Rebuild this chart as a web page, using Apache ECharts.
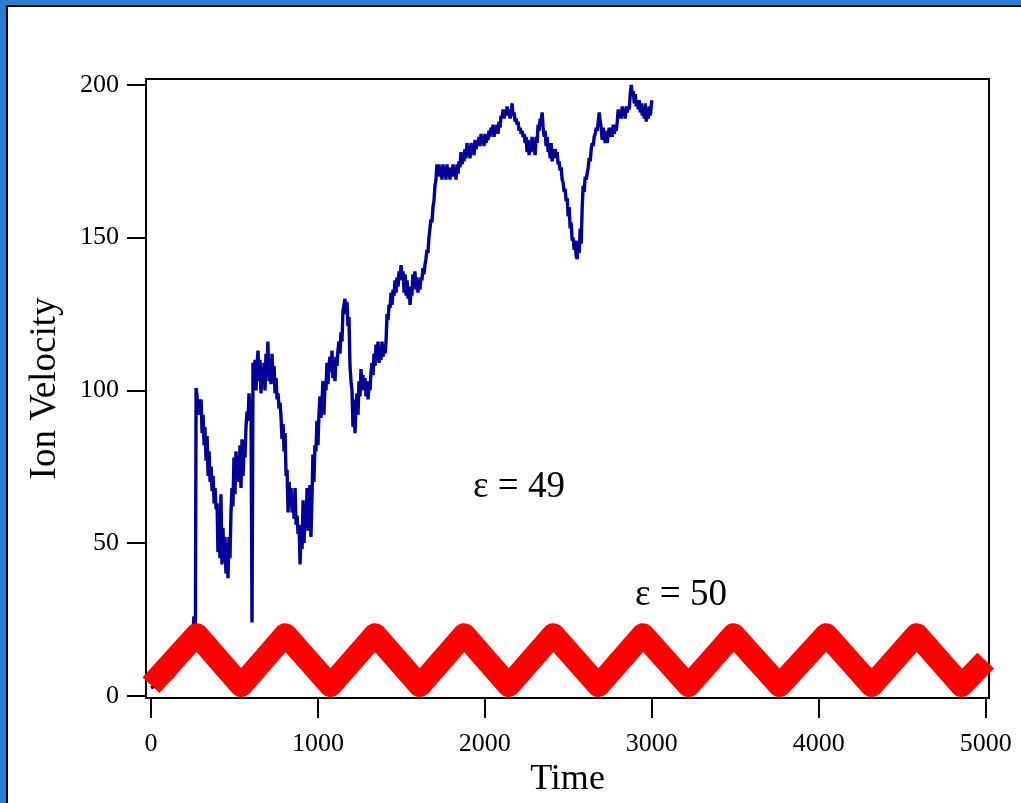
<!DOCTYPE html>
<html><head><meta charset="utf-8">
<script src="https://cdn.jsdelivr.net/npm/echarts@6/dist/echarts.min.js"></script>
<style>html,body{margin:0;padding:0;background:#fff;overflow:hidden}#c{width:1021px;height:803px}</style>
</head><body><div id="c"></div>
<script>
const xTicks = [0, 1000, 2000, 3000, 4000, 5000];
const yTicks = [0, 50, 100, 150, 200];
const xTitle = 'Time';
const yTitle = 'Ion Velocity';
const label49 = 'ε = 49';
const label50 = 'ε = 50';

// epsilon = 49 (blue), [time, velocity]
const blue49 = [
[0,2.5],[30,3.5],[60,4.5],[90,5],[126,6],[160,8.5],[192,10.7],[220,12.5],[245,14.3],[252,21],[257,26],[262,24],[266,22],[270,100.8],
[276,98],[282,92],[288,97],[294,93],[300,97],[306,86],[312,92],[318,82],[323,88],[330,77],[336,85],[342,72],[348,80],[354,70],[360,75],
[366,67],[372,72],[378,63],[384,68],[390,61],[396,63],[401,47],[407,60],[413,45],[419,66],[425,43],[431,55],[437,44],[443,52],[449,40],
[455,50],[461,38.5],[467,52],[473,45],[479,60],[485,68],[491,62],[497,78],[503,66],[509,80],[515,72],[521,78],[527,70],[533,82],[539,68],
[545,84],[551,72],[557,80],[563,78],[569,88],[575,93],[581,90],[587,99],[593,93],[599,97],[605,24],[611,109],[617,104],[623,110],[629,100],
[635,108],[641,113],[647,103],[653,110],[659,99],[665,107],[671,102],[677,109],[683,100],[689,112],[695,106],[700,116],[707,103],[713,110],
[719,102],[725,112],[731,103],[737,108],[743,99],[749,104],[755,97],[761,99],[767,94],[773,96],[779,91],[785,84],[791,89],[797,80],[803,86],
[809,72],[815,74],[821,60],[827,70],[833,64],[839,68],[845,60],[851,66],[857,58],[863,68],[869,56],[875,59],[881,53],[887,56],[893,43],
[899,55],[905,48],[911,64],[917,50],[923,62],[929,56],[935,68],[941,54],[947,60],[952,69],[958,52],[964,64],[970,79],[976,70],[982,82],
[988,80],[994,90],[1000,82],[1006,92],[1012,98],[1018,91],[1024,96],[1030,103],[1036,92],[1042,102],[1048,100],[1054,109],[1060,102],
[1066,108],[1072,111],[1078,106],[1084,113],
[1090,104],[1096,110],[1102,103],[1108,111],[1114,108],[1120,113],[1126,116],[1132,112],[1138,119],[1144,116],[1150,126],[1156,128],
[1162,130],[1168,125],[1174,129],[1180,121],[1186,124],[1192,108],[1198,103],[1204,100],[1210,88],[1216,97],[1222,86],[1228,95],[1234,99],
[1240,92],[1246,103],[1252,98],[1258,107],[1264,100],[1270,105],[1276,101],[1282,104],[1288,98],[1294,103],[1300,97],[1306,102],[1312,100],
[1318,106],[1324,109],[1330,105],[1336,112],[1342,108],[1348,115],[1354,110],[1360,116],[1366,109],[1372,114],[1378,110],[1384,116],
[1390,111],[1396,115],[1402,112],[1408,116],[1414,125],[1420,123],[1426,128],[1432,127],[1438,132],[1444,128],[1450,133],[1456,131],
[1462,136],[1468,132],[1474,137],[1480,134],[1486,139],[1492,137],[1498,141],[1504,136],[1510,139],[1516,132],[1522,138],[1528,131],
[1534,136],[1540,130],[1546,134],[1552,128],[1558,133],[1563,131],[1569,138],[1575,134],[1581,139],[1587,133],[1593,137],[1599,132],
[1605,136],[1611,133],[1617,137],[1623,136],[1629,140],[1635,138],[1641,141],[1647,143],[1653,146],[1659,145],[1665,150],[1671,153],
[1677,156],[1683,155],[1689,160],[1695,162],[1701,167],[1707,169],
[1713,174],[1719,170],[1725,174],[1731,170],[1737,173],[1743,169],[1749,174],[1755,171],[1761,173],[1767,169],[1773,174],[1779,171],
[1785,173],[1791,169],[1797,172],[1803,170],[1809,174],[1815,170],[1821,172],[1827,169],[1833,174],[1839,171],[1845,175],[1851,173],
[1857,178],[1863,174],[1869,177],[1875,175],[1881,179],[1887,176],[1893,181],[1899,177],[1905,180],[1911,176],[1917,181],[1923,178],
[1929,180],[1935,177],[1941,182],[1947,179],[1953,181],[1959,180],[1965,183],[1971,180],[1977,184],[1983,181],[1989,183],[1995,180],
[2001,184],[2007,181],[2013,183],[2019,182],[2025,185],[2031,183],[2037,186],[2043,184],[2049,187],[2055,183],[2061,186],[2067,185],
[2073,187],[2079,184],[2085,188],[2091,186],[2097,190],[2103,189],[2109,192],[2115,189],[2121,191],[2127,190],[2133,193],[2139,190],
[2145,192],[2151,189],[2157,191],[2163,194],[2169,190],[2175,191],[2181,188],[2187,189],[2193,187],[2199,188],[2205,185],[2211,186],
[2217,184],[2223,185],[2229,183],[2235,184],[2241,181],[2247,183],[2253,178],[2259,182],[2265,177],[2271,181],[2277,178],[2283,183],
[2289,180],[2295,182],[2301,177],[2307,183],[2313,181],[2319,187],[2325,185],[2331,189],[2337,188],[2343,191],[2349,186],[2355,183],
[2361,185],[2367,180],[2373,183],[2379,178],[2385,181],[2391,176],[2397,181],[2403,175],[2409,179],[2415,176],[2421,179],[2427,177],
[2433,178],[2439,174],[2445,175],[2451,172],[2457,173],[2463,169],[2469,168],[2475,165],[2481,166],[2487,162],[2493,163],[2499,157],
[2505,160],[2511,153],[2517,155],[2523,149],[2529,150],[2535,146],[2541,149],[2547,144],[2553,143],[2559,149],[2565,145],[2571,153],
[2577,148],[2583,160],[2589,167],[2595,165],[2601,170],[2607,169],[2613,171],[2619,173],[2625,176],[2631,175],[2637,179],[2643,181],
[2649,180],[2655,183],[2661,184],[2667,186],[2673,185],[2679,188],[2685,191],[2691,188],[2697,186],[2703,182],[2709,186],[2715,183],
[2721,181],[2727,185],[2733,181],[2739,184],[2745,186],[2751,183],[2757,186],[2763,183],[2769,187],[2775,184],[2781,186],[2787,185],
[2793,188],[2799,192],[2805,189],[2811,191],[2817,189],[2823,193],[2829,190],[2835,192],[2841,189],[2847,193],[2853,191],[2859,193],
[2865,192],[2871,197],[2877,200],[2883,197],[2889,198],[2895,194],[2901,197],[2907,193],[2913,195],[2919,192],[2925,195],[2931,191],
[2937,194],[2943,190],[2949,193],[2955,189],[2961,194],[2967,188],[2973,192],[2979,189],[2985,193],[2991,190],[3000,195]
];

// epsilon = 50 (red), band centre at turning points
const red50Time = [0, 274, 540, 805, 1075, 1342, 1610, 1876, 2143, 2410, 2680, 2947, 3220, 3490, 3765, 4045, 4317, 4587, 4856, 5000];
const red50Vel  = [3.4, 20, 3.3, 20, 3.3, 20, 3.3, 20, 3.3, 20, 3.3, 20, 3.3, 20, 3.3, 20, 3.3, 20, 3.3, 11.5];

const serif = '"Liberation Serif", "Times New Roman", serif';
const chart = echarts.init(document.getElementById('c'), null, {renderer: 'canvas'});
const option = {
  animation: false,
  backgroundColor: '#ffffff',
  grid: {left: 146, right: 32, top: 79, bottom: 105, show: true, borderColor: '#000', borderWidth: 2, backgroundColor: 'transparent'},
  xAxis: {
    type: 'value', min: -30, max: 5020,
    name: xTitle, nameLocation: 'middle', nameGap: 53,
    nameTextStyle: {fontFamily: serif, fontSize: 36, color: '#000'},
    axisLine: {show: true, onZero: false, lineStyle: {color: '#000', width: 2}},
    axisTick: {show: true, inside: false, length: 20, lineStyle: {color: '#000', width: 2}, customValues: xTicks},
    axisLabel: {show: true, margin: 33, fontFamily: serif, fontSize: 26, color: '#000', customValues: xTicks,
                formatter: v => String(v)},
    splitLine: {show: false}
  },
  yAxis: {
    type: 'value', min: -0.75, max: 201.96,
    name: yTitle, nameLocation: 'middle', nameGap: 82,
    nameTextStyle: {fontFamily: serif, fontSize: 37, color: '#000'},
    axisLine: {show: true, onZero: false, lineStyle: {color: '#000', width: 2}},
    axisTick: {show: true, inside: false, length: 19, lineStyle: {color: '#000', width: 2}, customValues: yTicks},
    axisLabel: {show: true, margin: 27, fontFamily: serif, fontSize: 26, color: '#000', customValues: yTicks,
                formatter: v => String(v)},
    splitLine: {show: false}
  },
  series: [
    {type: 'line', data: blue49, showSymbol: false, symbol: 'none', lineStyle: {color: '#000099', width: 3.4}, z: 2},
    {type: 'line', data: red50Time.map((t, i) => [t, red50Vel[i]]), showSymbol: false, symbol: 'none',
     lineStyle: {color: '#ff0000', width: 23, join: 'round', cap: 'butt'}, z: 3}
  ],
  graphic: [
    {type: 'rect', shape: {x: 0, y: 0, width: 1021, height: 5}, style: {fill: '#2b7cd5'}, silent: true},
    {type: 'rect', shape: {x: 0, y: 0, width: 6, height: 803}, style: {fill: '#2b7cd5'}, silent: true},
    {type: 'rect', shape: {x: 6, y: 5, width: 1015, height: 2}, style: {fill: '#000'}, silent: true},
    {type: 'rect', shape: {x: 6, y: 5, width: 2, height: 798}, style: {fill: '#000'}, silent: true},
    {type: 'text', left: 473, top: 469, style: {text: label49, font: '37px ' + serif, fill: '#000'}, silent: true},
    {type: 'text', left: 635, top: 577, style: {text: label50, font: '37px ' + serif, fill: '#000'}, silent: true}
  ]
};
chart.setOption(option);
</script>
</body></html>
